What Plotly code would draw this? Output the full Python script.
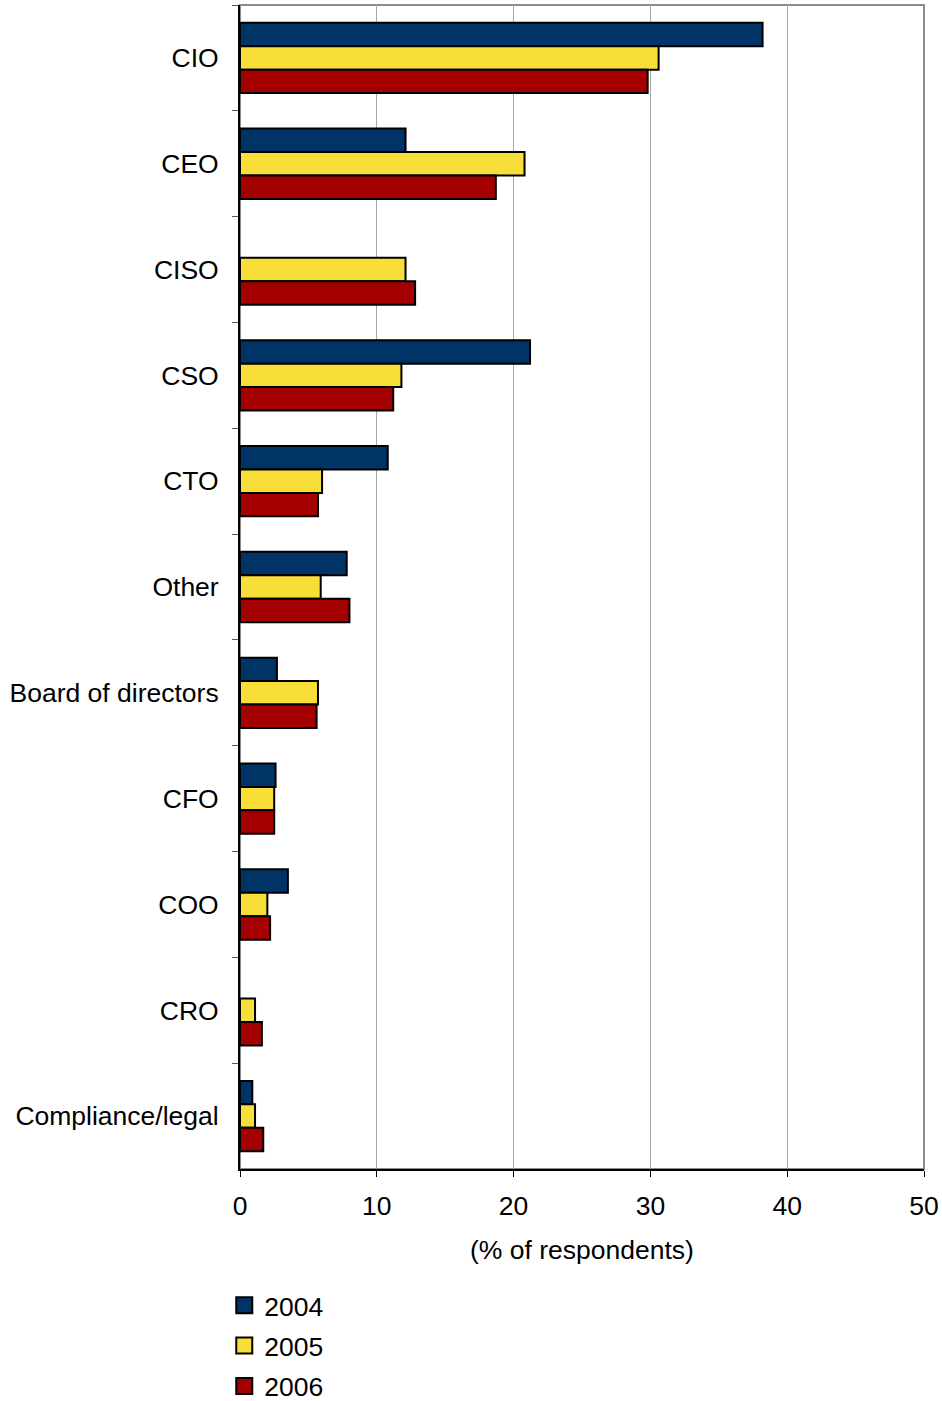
import plotly.graph_objects as go

# Who is responsible for information security (% of respondents)
roles = ["CIO", "CEO", "CISO", "CSO", "CTO", "Other", "Board of directors",
         "CFO", "COO", "CRO", "Compliance/legal"]
years = ["2004", "2005", "2006"]
vals_2004 = [38.2, 12.1, None, 21.2, 10.8, 7.8, 2.7, 2.6, 3.5, None, 0.9]
vals_2005 = [30.6, 20.8, 12.1, 11.8, 6.0, 5.9, 5.7, 2.5, 2.0, 1.1, 1.1]
vals_2006 = [29.8, 18.7, 12.8, 11.2, 5.7, 8.0, 5.6, 2.5, 2.2, 1.6, 1.7]
colors = ["#003366", "#F8DE38", "#A40000"]

series = [vals_2004, vals_2005, vals_2006]
font = "Liberation Sans, Arial, sans-serif"
fsize = 26.5

fig = go.Figure()
for name, vals, col in zip(years, series, colors):
    fig.add_trace(go.Bar(
        y=roles, x=vals, name=name, orientation="h",
        marker=dict(color=col, line=dict(color="black", width=2)),
        showlegend=False,
    ))

# legend swatches
for name, col in zip(years, colors):
    fig.add_trace(go.Scatter(
        x=[None], y=[None], mode="markers", name=name, legendgroup=name,
        marker=dict(symbol="square", size=16, color=col,
                    line=dict(color="black", width=2)),
        showlegend=True,
    ))

fig.update_layout(
    width=942, height=1401,
    margin=dict(l=240, r=18, t=5, b=232, autoexpand=False),
    paper_bgcolor="white", plot_bgcolor="white",
    barmode="group", bargap=0.335, bargroupgap=0,
    font=dict(family=font, size=fsize, color="black"),
    legend=dict(x=-0.023, xanchor="left", y=-0.0966, yanchor="top",
                font=dict(size=fsize), bgcolor="rgba(0,0,0,0)",
                tracegroupgap=3, itemsizing="trace"),
    shapes=[dict(type="rect", xref="x domain", yref="y domain",
                 x0=0, x1=1, y0=0, y1=1, layer="below",
                 line=dict(color="#8C8C8C", width=2))],
)

fig.update_xaxes(
    range=[0, 50], dtick=10, tick0=0,
    showgrid=True, gridcolor="#A6A6A6", gridwidth=1,
    showline=True, linecolor="black", linewidth=2,
    ticks="outside", ticklen=6, tickwidth=1, tickcolor="black",
    ticklabelstandoff=6, automargin=False,
    tickfont=dict(size=fsize),
    title=dict(text="(% of respondents)", font=dict(size=fsize), standoff=21),
    zeroline=False, fixedrange=True,
)
fig.update_yaxes(
    autorange="reversed", type="category",
    showline=True, linecolor="black", linewidth=2,
    ticks="outside", tickson="boundaries", ticklen=6, tickwidth=1,
    tickcolor="#555555", ticklabelstandoff=14, automargin=False,
    tickfont=dict(size=fsize), showgrid=False, zeroline=False,
)

fig.write_html("out.html")
